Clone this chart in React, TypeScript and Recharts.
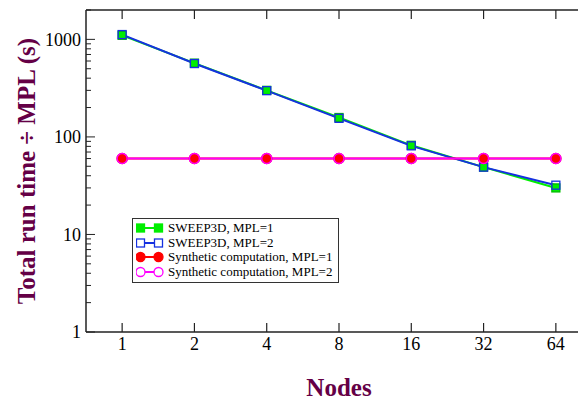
import { LineChart, Line, XAxis, YAxis, Legend } from 'recharts'

const nodes = [1, 2, 4, 8, 16, 32, 64]
const sweepMpl1 = [1100, 570, 300, 158, 82, 49, 30]
const sweepMpl2 = [1120, 565, 298, 155, 81, 49, 32]
const synthMpl1 = [60, 60, 60, 60, 60, 60, 60]
const synthMpl2 = [60, 60, 60, 60, 60, 60, 60]

const yMajor = [1, 10, 100, 1000]
const yTicks = [
  1, 2, 3, 4, 5, 6, 7, 8, 9,
  10, 20, 30, 40, 50, 60, 70, 80, 90,
  100, 200, 300, 400, 500, 600, 700, 800, 900,
  1000, 2000,
]

const data = nodes.map((n, i) => ({
  nodes: n,
  s1: sweepMpl1[i],
  s2: sweepMpl2[i],
  c1: synthMpl1[i],
  c2: synthMpl2[i],
}))

const GREEN = '#00ee00'
const BLUE = '#1530e0'
const RED = '#ff0000'
const MAGENTA = '#ff00ff'
const TITLE = '#650046'
const FONT = '"Liberation Serif", "DejaVu Serif", serif'
const AXIS = '#222'
const xDomain = [Math.SQRT1_2, 64 * Math.SQRT2]

const Square = ({ cx, cy, fill, stroke }: any) =>
  cx == null ? null : (
    <rect x={cx - 4} y={cy - 4} width={8} height={8} fill={fill} stroke={stroke} strokeWidth={1.3} />
  )

const Circle = ({ cx, cy, fill, stroke }: any) =>
  cx == null ? null : <circle cx={cx} cy={cy} r={5} fill={fill} stroke={stroke} strokeWidth={1.5} />

const legendItems = [
  { label: 'SWEEP3D, MPL=1', color: GREEN, shape: 'square', filled: true },
  { label: 'SWEEP3D, MPL=2', color: BLUE, shape: 'square', filled: false },
  { label: 'Synthetic computation, MPL=1', color: RED, shape: 'circle', filled: true },
  { label: 'Synthetic computation, MPL=2', color: MAGENTA, shape: 'circle', filled: false },
]

function LegendBox() {
  return (
    <div
      style={{
        border: '1px solid #333',
        background: '#fff',
        padding: '2px 6px 3px 3px',
        fontFamily: FONT,
        fontSize: 13,
        lineHeight: '14.5px',
        color: '#000',
        whiteSpace: 'nowrap',
      }}
    >
      {legendItems.map((it) => (
        <div key={it.label} style={{ display: 'flex', alignItems: 'center', height: 14.5 }}>
          <svg width={30} height={12} style={{ marginRight: 2, flex: 'none' }}>
            <line x1={4} y1={6} x2={23} y2={6} stroke={it.color} strokeWidth={2} />
            {it.shape === 'square' ? (
              <>
                <rect x={0.5} y={2} width={8} height={8} fill={it.filled ? it.color : '#fff'} stroke={it.color} strokeWidth={1.3} />
                <rect x={18.5} y={2} width={8} height={8} fill={it.filled ? it.color : '#fff'} stroke={it.color} strokeWidth={1.3} />
              </>
            ) : (
              <>
                <circle cx={4.5} cy={6} r={4.5} fill={it.filled ? it.color : '#fff'} stroke={it.color} strokeWidth={1.3} />
                <circle cx={22.5} cy={6} r={4.5} fill={it.filled ? it.color : '#fff'} stroke={it.color} strokeWidth={1.3} />
              </>
            )}
          </svg>
          <span>{it.label}</span>
        </div>
      ))}
    </div>
  )
}

const BottomTick = ({ x, y, payload }: any) => (
  <g>
    <line x1={x} y1={y} x2={x} y2={y - 9} stroke={AXIS} strokeWidth={1.2} />
    <text x={x} y={y + 18} textAnchor="middle" fontFamily={FONT} fontSize={18} fill="#000">
      {payload.value}
    </text>
  </g>
)

const TopTick = ({ x, y }: any) => <line x1={x} y1={y} x2={x} y2={y + 9} stroke={AXIS} strokeWidth={1.2} />

const LeftTick = ({ x, y, payload }: any) => {
  const major = yMajor.includes(payload.value)
  return (
    <g>
      <line x1={x} y1={y} x2={x + (major ? 9 : 5)} y2={y} stroke={AXIS} strokeWidth={1} />
      {major && (
        <text x={x - 5} y={y} dy="0.35em" textAnchor="end" fontFamily={FONT} fontSize={18} fill="#000">
          {payload.value}
        </text>
      )}
    </g>
  )
}

const RightTick = ({ x, y, payload }: any) => {
  const major = yMajor.includes(payload.value)
  return <line x1={x} y1={y} x2={x - (major ? 9 : 5)} y2={y} stroke={AXIS} strokeWidth={1} />
}

export default function App() {
  return (
    <div style={{ width: 578, height: 392, overflow: 'hidden' }}>
      <LineChart width={600} height={392} data={data} margin={{ top: 1, right: 15, bottom: 2, left: 0 }}>
        <XAxis
          dataKey="nodes"
          type="number"
          scale="log"
          domain={xDomain}
          allowDataOverflow
          ticks={nodes}
          interval={0}
          tickSize={0}
          tickMargin={0}
          tickLine={false}
          height={66}
          axisLine={{ stroke: AXIS, strokeWidth: 1.5 }}
          tick={<BottomTick />}
          label={{
            content: ({ viewBox }: any) => (
              <text
                x={viewBox.x + viewBox.width / 2}
                y={viewBox.y + 64}
                textAnchor="middle"
                fontFamily={FONT}
                fontSize={25}
                fontWeight="bold"
                fill={TITLE}
              >
                Nodes
              </text>
            ),
          }}
        />
        <XAxis
          xAxisId="t"
          orientation="top"
          dataKey="nodes"
          type="number"
          scale="log"
          domain={xDomain}
          allowDataOverflow
          ticks={nodes}
          interval={0}
          tickSize={0}
          tickMargin={0}
          tickLine={false}
          height={1}
          axisLine={{ stroke: AXIS, strokeWidth: 1.5 }}
          tick={<TopTick />}
        />
        <YAxis
          type="number"
          scale="log"
          domain={[1, 2000]}
          allowDataOverflow
          ticks={yTicks}
          interval={0}
          tickSize={0}
          tickMargin={0}
          tickLine={false}
          width={78}
          axisLine={{ stroke: AXIS, strokeWidth: 1.5 }}
          tick={<LeftTick />}
          label={{
            content: ({ viewBox }: any) => {
              const cx = 18
              const cy = viewBox.y + viewBox.height / 2
              return (
                <text
                  x={cx}
                  y={cy}
                  dy="0.35em"
                  textAnchor="middle"
                  transform={`rotate(-90 ${cx} ${cy})`}
                  fontFamily={FONT}
                  fontSize={25}
                  fontWeight="bold"
                  fill={TITLE}
                >
                  Total run time ÷ MPL (s)
                </text>
              )
            },
          }}
        />
        <YAxis
          yAxisId="r"
          orientation="right"
          type="number"
          scale="log"
          domain={[1, 2000]}
          allowDataOverflow
          ticks={yTicks}
          interval={0}
          tickSize={0}
          tickMargin={0}
          tickLine={false}
          width={1}
          axisLine={{ stroke: AXIS, strokeWidth: 1.5 }}
          tick={<RightTick />}
        />
        <Line
          dataKey="s1"
          stroke={GREEN}
          strokeWidth={2}
          isAnimationActive={false}
          dot={(p: any) => <Square key={`s1-${p.index}`} {...p} fill={GREEN} stroke="#00bb00" />}
        />
        <Line
          dataKey="s2"
          stroke={BLUE}
          strokeWidth={2}
          isAnimationActive={false}
          dot={(p: any) => <Square key={`s2-${p.index}`} {...p} fill="none" stroke={BLUE} />}
        />
        <Line
          dataKey="c1"
          stroke={RED}
          strokeWidth={2}
          isAnimationActive={false}
          dot={(p: any) => <Circle key={`c1-${p.index}`} {...p} fill={RED} stroke={RED} />}
        />
        <Line
          dataKey="c2"
          stroke={MAGENTA}
          strokeWidth={2}
          isAnimationActive={false}
          dot={(p: any) => <Circle key={`c2-${p.index}`} {...p} fill="none" stroke={MAGENTA} />}
        />
        <Legend
          layout="horizontal"
          align="center"
          verticalAlign="middle"
          wrapperStyle={{ left: 124, top: 210, width: 'auto' }}
          content={() => <LegendBox />}
        />
      </LineChart>
    </div>
  )
}
